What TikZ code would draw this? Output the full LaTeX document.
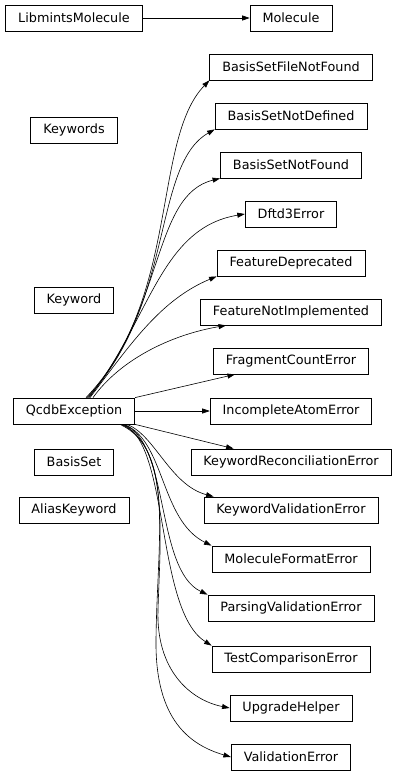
\documentclass[tikz,border=0pt]{standalone}
\usepackage{fontspec}
\setmainfont{DejaVu Sans}
\usetikzlibrary{arrows.meta}

\begin{document}
\begin{tikzpicture}[x=1pt,y=-1pt,inh/.style={-{Triangle[length=7.5pt,width=5pt]},line width=.6pt}]%
        %\draw[step=10,color=gray,very thin] (0,0) grid (397,776);%%
        \useasboundingbox (0,0) rectangle (397,776);%%
        \begin{scope}[shape=rectangle,minimum height=26pt,inner xsep=12.5pt,inner ysep=0pt]
        \tikzstyle{every node}=[draw,line width=.8pt,font=\fontsize{12.8}{15}\selectfont] %%
        % left column
        \node (lm) at (74,18)  {LibmintsMolecule}; %%
        \node (kws) at (74,130)  {Keywords}; %%
        \node (kw) at (74,300)  {Keyword}; %%
        \node (qcdb) at (74,411)  {QcdbException}; %%
        \node (bs) at (74,462)  {BasisSet}; %%
        \node (ak) at (74,510)  {AliasKeyword}; %%
        % right column
        \node (mol) at (291,18)  {Molecule}; %%
        \node (bsfnf) at (291,67)  {BasisSetFileNotFound}; %%
        \node (bsnd) at (291,116)  {BasisSetNotDefined}; %%
        \node (bsnf) at (291,165)  {BasisSetNotFound}; %%
        \node (dftd3) at (291,214)  {Dftd3Error}; %%
        \node (fdep) at (291,263)  {FeatureDeprecated}; %%
        \node (fni) at (291,312)  {FeatureNotImplemented}; %%
        \node (fce) at (291,361)  {FragmentCountError}; %%
        \node (iae) at (291,411)  {IncompleteAtomError}; %%
        \node (kre) at (291,462)  {KeywordReconciliationError}; %%
        \node (kve) at (291,510)  {KeywordValidationError}; %%
        \node (mfe) at (291,559)  {MoleculeFormatError}; %%
        \node (pve) at (291,608)  {ParsingValidationError}; %%
        \node (tce) at (291,659)  {TestComparisonError}; %%
        \node (uh) at (291,708)  {UpgradeHelper}; %%
        \node (ve) at (291,757)  {ValidationError}; %%
        \end{scope}
        \draw[inh] (lm)--(mol); %%
        % upward bundle
        \draw[inh] ([xshift=12pt]qcdb.north) .. controls (180,300) and (152,140) .. (bsfnf.south west); %%
        \draw[inh] ([xshift=13pt]qcdb.north) .. controls (175,305) and (152,165) .. (bsnd.south west); %%
        \draw[inh] ([xshift=14pt]qcdb.north) .. controls (165,310) and (152,195) .. (bsnf.south west); %%
        \draw[inh] ([xshift=15pt]qcdb.north) .. controls (150,320) and (160,228) .. (dftd3.west); %%
        \draw[inh] ([xshift=16pt]qcdb.north) .. controls (130,345) and (160,300) .. (fdep.south west); %%
        \draw[inh] ([xshift=19pt]qcdb.north) .. controls (120,360) and (170,335) .. ([xshift=26pt]fni.south west); %%
        % nearly straight ones
        \draw[inh] (qcdb.north east)--([xshift=22pt]fce.south west); %%
        \draw[inh] (qcdb)--(iae); %%
        \draw[inh] (qcdb.south east)--([xshift=43pt]kre.north west); %%
        % downward bundle
        \draw[inh] ([xshift=-8pt]qcdb.south east) .. controls (155,435) and (170,485) .. ([xshift=10pt]kve.north west); %%
        \draw[inh] ([xshift=-11pt]qcdb.south east) .. controls (165,440) and (160,520) .. (mfe.north west); %%
        \draw[inh] ([xshift=-12pt]qcdb.south east) .. controls (170,440) and (155,570) .. (pve.north west); %%
        \draw[inh] ([xshift=-13pt]qcdb.south east) .. controls (170,440) and (155,610) .. (tce.north west); %%
        \draw[inh] ([xshift=-14pt]qcdb.south east) .. controls (170,445) and (160,540) .. (158,610)
                .. controls (156,670) and (190,700) .. (uh.west); %%
        \draw[inh] ([xshift=-15pt]qcdb.south east) .. controls (175,450) and (157,540) .. (156,640)
                .. controls (155,720) and (190,745) .. (ve.west); %%
\end{tikzpicture}
\end{document}
